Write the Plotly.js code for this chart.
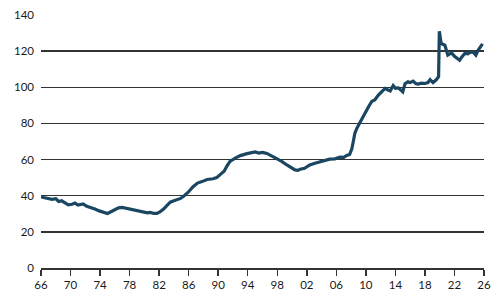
<!DOCTYPE html>
<html><head><meta charset="utf-8">
<script src="https://cdn.plot.ly/plotly-3.0.1.min.js"></script>
<style>html,body{margin:0;padding:0;background:#fff}#c{width:500px;height:300px}</style>
</head><body><div id="c"></div>
<script>
const years = [1966.0,1966.5,1967.0,1967.5,1968.0,1968.4,1968.8,1969.3,1969.7,1970.2,1970.6,1971.0,1971.4,1971.7,1972.2,1972.7,1973.3,1973.9,1974.5,1975.0,1975.6,1976.0,1976.5,1977.0,1977.6,1978.0,1978.3,1978.8,1979.3,1979.9,1980.4,1980.8,1981.3,1981.7,1982.1,1982.6,1983.0,1983.5,1984.0,1984.4,1984.9,1985.4,1985.9,1986.6,1987.2,1987.8,1988.5,1989.3,1989.8,1990.3,1990.8,1991.2,1991.6,1992.3,1993.0,1993.9,1994.5,1995.0,1995.5,1996.0,1996.6,1997.2,1997.9,1998.6,1999.3,2000.0,2000.4,2000.8,2001.1,2001.7,2002.4,2003.1,2003.8,2004.5,2005.1,2005.8,2006.5,2007.0,2007.4,2007.8,2008.1,2008.3,2008.5,2008.8,2009.2,2009.5,2009.9,2010.4,2010.8,2011.2,2011.7,2012.2,2012.6,2013.0,2013.3,2013.7,2014.0,2014.4,2014.7,2015.0,2015.3,2015.7,2016.0,2016.4,2016.8,2017.1,2017.5,2018.0,2018.4,2018.7,2019.1,2019.5,2019.85,2019.95,2020.2,2020.7,2021.1,2021.6,2022.0,2022.4,2022.7,2023.0,2023.4,2023.8,2024.1,2024.5,2024.9,2025.2,2025.6,2025.8];
const values = [39.3,38.9,38.6,38.0,38.3,36.8,37.2,36.0,35.0,35.3,35.9,34.8,35.4,35.5,34.1,33.2,32.6,31.6,30.7,30.2,31.4,32.3,33.3,33.5,32.9,32.5,32.2,32.0,31.2,30.7,30.5,30.8,30.2,30.2,31.0,32.6,34.4,36.4,37.2,37.7,38.5,40.0,41.8,45.0,47.0,47.8,49.0,49.4,50.0,51.8,53.5,56.5,59.0,60.8,62.2,63.3,63.6,64.2,63.6,64.0,63.4,62.2,60.7,59.0,57.0,55.0,54.3,54.0,54.7,55.2,57.0,58.0,58.9,59.5,60.2,60.4,61.3,61.2,62.3,62.8,66.0,70.0,74.5,77.5,80.5,83.0,86.5,89.5,92.2,93.0,95.7,97.5,99.4,98.5,98.0,101.0,99.5,99.7,98.5,97.5,102.0,103.0,102.6,103.4,102.0,101.8,102.3,102.1,102.6,104.2,102.6,104.0,105.8,131.0,124.2,123.3,117.8,119.0,117.2,116.0,115.0,116.8,118.7,118.5,119.3,119.6,117.8,120.5,122.5,124.0];
const xTickVals = [1966,1970,1974,1978,1982,1986,1990,1994,1998,2002,2006,2010,2014,2018,2022,2026];
const xTickText = ["66","70","74","78","82","86","90","94","98","02","06","10","14","18","22","26"];
const yTickVals = [0,20,40,60,80,100,120,140];

Plotly.newPlot('c', [{
  x: years, y: values, type: 'scatter', mode: 'lines',
  line: {color: '#1a4661', width: 3.2, shape: 'linear'},
  hoverinfo: 'skip'
}], {
  width: 500, height: 300,
  margin: {l: 41, r: 16, t: 15, b: 32},
  paper_bgcolor: '#fff', plot_bgcolor: '#fff',
  showlegend: false,
  xaxis: {
    range: [1966, 2026], tickvals: xTickVals, ticktext: xTickText,
    showgrid: false, zeroline: false, showline: true, linecolor: '#333', linewidth: 1.5,
    ticks: 'outside', ticklen: 6, tickwidth: 1.5, tickcolor: '#333',
    tickfont: {family: 'Lato, "Noto Sans", sans-serif', size: 11.5, color: '#1a1a1a'}
  },
  yaxis: {
    range: [0, 140], tickvals: yTickVals,
    showgrid: true, gridcolor: '#333', gridwidth: 1.5, zeroline: false, showline: false,
    ticks: '', ticklabelstandoff: 6,
    tickfont: {family: 'Lato, "Noto Sans", sans-serif', size: 11.5, color: '#1a1a1a'}
  }
}, {staticPlot: true, displayModeBar: false});
</script></body></html>
